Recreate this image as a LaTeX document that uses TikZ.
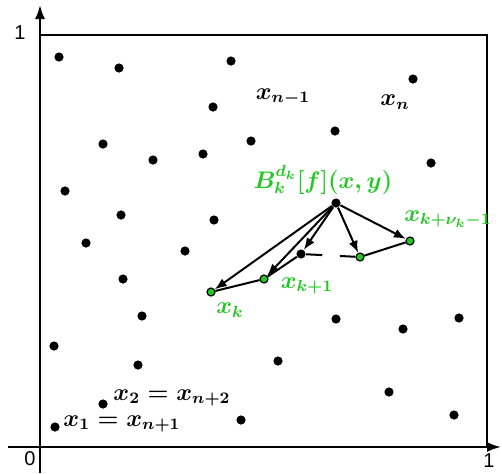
\documentclass[tikz,border=0pt]{standalone}
\usepackage{fontspec}
\newfontfamily\axisfont{Liberation Sans}
\usetikzlibrary{arrows.meta,calc}
\definecolor{ptgreen}{RGB}{34,200,34}
\tikzset{
  pt/.style={circle, fill, inner sep=0pt, minimum size=4.6pt},
  gpt/.style={circle, draw, fill=ptgreen, line width=0.6pt, inner sep=0pt, minimum size=4pt},
  lab/.style={font=\large\boldmath, inner sep=0pt},
  glab/.style={lab, text=ptgreen},
  axlab/.style={font=\axisfont\fontsize{10}{12}\selectfont, inner sep=0pt},
  arr/.style={-{Latex[length=6pt,width=4.6pt]}, line width=1pt},
  seg/.style={line width=1pt}
}
\begin{document}
\begin{tikzpicture}[x=0.5pt,y=-0.5pt]
\useasboundingbox (0,0) rectangle (502,473);
% axes and unit square
\coordinate (o) at (40,447);
\coordinate (ytop) at (40,5);
\coordinate (ybot) at (40,473);
\coordinate (xl) at (8,447);
\coordinate (xr) at (501,447);
\draw[line width=1.1pt, -{Latex[length=7pt,width=5pt]}] (ybot) -- (ytop);
\draw[line width=1.1pt, -{Latex[length=7pt,width=5pt]}] (xl) -- (xr);
\draw[line width=1.1pt] (o) rectangle (487,35);
\node[axlab] (one-y) at (20,33) {1};
\node[axlab] (zero) at (30,459) {0};
\node[axlab] (one-x) at (489,461) {1};
% scattered points
\node[pt] (p1) at (59,57) {};
\node[pt] (p2) at (119,68) {};
\node[pt] (p3) at (231,61) {};
\node[pt] (p4) at (213,107) {};
\node[pt] (p5) at (103,144) {};
\node[pt] (p6) at (153,160) {};
\node[pt] (p7) at (203,154) {};
\node[pt] (p8) at (251,141) {};
\node[pt] (p9) at (413,79) {};
\node[pt] (p10) at (335,131) {};
\node[pt] (p11) at (431,163) {};
\node[pt] (p12) at (65,191) {};
\node[pt] (p13) at (121,215) {};
\node[pt] (p14) at (214,220) {};
\node[pt] (p15) at (86,243) {};
\node[pt] (p16) at (185,251) {};
\node[pt] (p17) at (123,279) {};
\node[pt] (p18) at (142,316) {};
\node[pt] (p19) at (54,346) {};
\node[pt] (p20) at (138,365) {};
\node[pt] (p21) at (103,404) {};
\node[pt] (p22) at (55,427) {};
\node[pt] (p23) at (241,420) {};
\node[pt] (p24) at (336,319) {};
\node[pt] (p25) at (403,329) {};
\node[pt] (p26) at (459,318) {};
\node[pt] (p27) at (278,361) {};
\node[pt] (p28) at (389,392) {};
\node[pt] (p29) at (454,415) {};
% labels of points
\node[lab] (ln1) at (283,97) {$x_{n-1}$};
\node[lab] (ln) at (395,102) {$x_{n}$};
\node[lab] (l1) at (122,424) {$x_{1}=x_{n+1}$};
\node[lab] (l2) at (172,398) {$x_{2}=x_{n+2}$};
% the stencil
\node[pt] (src) at (336,203) {};
\node[pt] (mid) at (301,254) {};
\node[gpt] (gk) at (211,292) {};
\node[gpt] (gk1) at (264,279) {};
\node[gpt] (g3) at (360,257) {};
\node[gpt] (glast) at (410,241) {};
\node[glab] (lB) at (323,180) {$B_k^{d_k}[f](x,y)$};
\node[glab] (lk) at (230,310) {$x_{k}$};
\node[glab] (lk1) at (307,286) {$x_{k+1}$};
\node[glab] (llast) at (448,219) {$x_{k+\nu_k-1}$};
\draw[seg] (gk) -- (gk1) -- (mid);
\draw[seg] (mid) -- ($(mid)!0.36!(g3)$);
\draw[seg] ($(mid)!0.66!(g3)$) -- (g3) -- (glast);
\draw[arr] (src) -- (gk);
\draw[arr] (src) -- (gk1);
\draw[arr] (src) -- (mid);
\draw[arr] (src) -- (g3);
\draw[arr] (src) -- (glast);
\end{tikzpicture}
\end{document}
